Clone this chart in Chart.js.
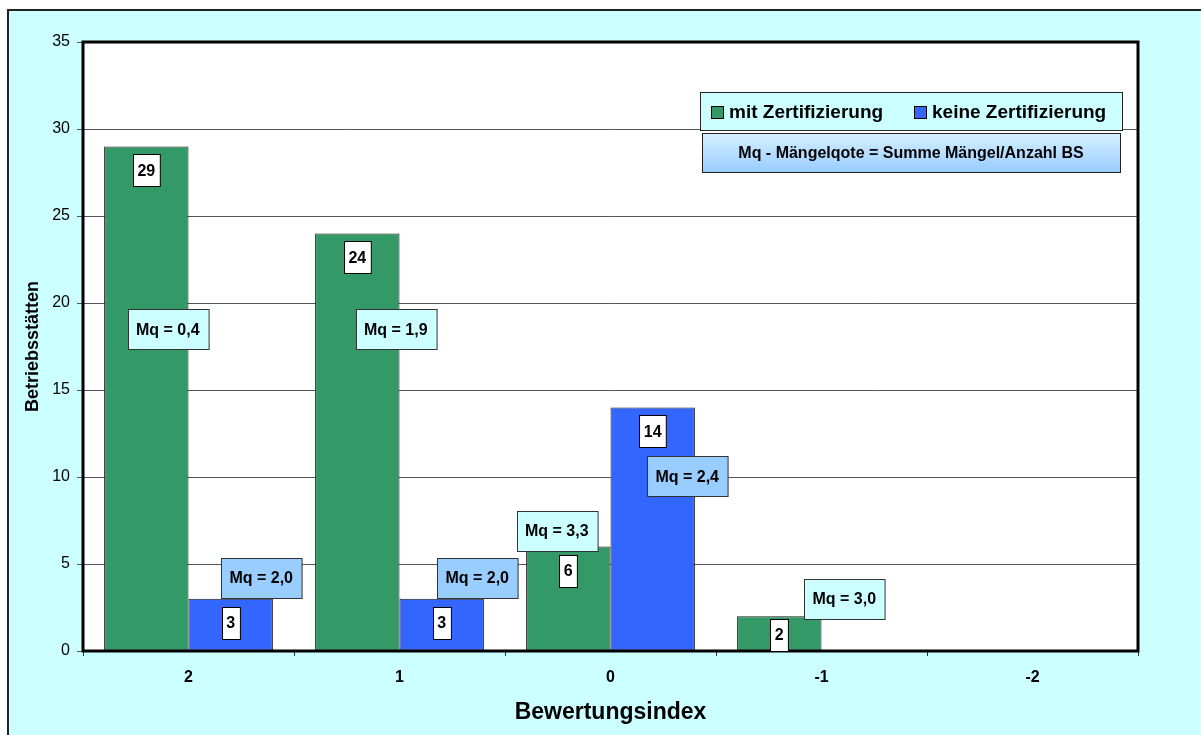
<!DOCTYPE html>
<html>
<head>
<meta charset="utf-8">
<title>Betriebsstätten nach Bewertungsindex</title>
<script src="https://cdn.jsdelivr.net/npm/chart.js@4/dist/chart.umd.min.js"></script>
<style>
  html, body { margin: 0; padding: 0; background: #ffffff; }
  #wrap { width: 1201px; height: 735px; }
</style>
</head>
<body>
<div id="wrap"><canvas id="chart" width="1201" height="735"></canvas></div>
<script>
// Bewertungsindex categories and counts of Betriebsstätten
const categories = ['2', '1', '0', '-1', '-2'];
const mitZertifizierung = [29, 24, 6, 2, 0];
const keineZertifizierung = [3, 3, 14, 0, 0];

// Mängelquote per bar (null = no annotation)
const mqMit = [0.4, 1.9, 3.3, 3.0, null];
const mqKeine = [2.0, 2.0, 2.4, null, null];

// y-axis ticks
const yMin = 0, yMax = 35, yStep = 5;

// placement of the Mq callouts: [pixel shift from bar centre, height in axis units]
const mqPlacement = {
  0: [[21.5, 18.5], [38.5, 18.5], [-11.5, 6.9], [65, 3.0], null],
  1: [[30.5, 4.2], [35.5, 4.2], [34.5, 10.05], null, null]
};
const mqSeries = [mqMit, mqKeine];
const mqFill = ['#ccffff', '#99ccff'];

const FONT = '"Liberation Sans", Arial, Helvetica, sans-serif';
const fmt = v => v.toFixed(1).replace('.', ',');

const framePlugin = {
  id: 'frame',
  beforeDraw(chart) {
    const { ctx, chartArea: a } = chart;
    ctx.save();
    // outer panel
    ctx.fillStyle = '#ccffff';
    ctx.fillRect(8, 10, chart.width, chart.height);
    ctx.strokeStyle = '#222';
    ctx.lineWidth = 2;
    ctx.beginPath();
    ctx.moveTo(8, chart.height + 5);
    ctx.lineTo(8, 10);
    ctx.lineTo(chart.width + 5, 10);
    ctx.stroke();
    // plot area
    ctx.fillStyle = '#ffffff';
    ctx.fillRect(a.left, a.top, a.right - a.left, a.bottom - a.top);
    ctx.restore();
  },
  afterDatasetsDraw(chart) {
    const { ctx, chartArea: a } = chart;
    const y = chart.scales.y;
    ctx.save();
    // plot border
    ctx.strokeStyle = '#000';
    ctx.lineWidth = 3;
    ctx.strokeRect(a.left, a.top, a.right - a.left, a.bottom - a.top);

    ctx.textAlign = 'center';
    ctx.textBaseline = 'middle';

    // value boxes at the top inside each bar
    ctx.font = 'bold 16px ' + FONT;
    chart.data.datasets.forEach((ds, di) => {
      const meta = chart.getDatasetMeta(di);
      meta.data.forEach((bar, i) => {
        const v = ds.data[i];
        if (!v) return;
        const txt = String(v);
        const w = ctx.measureText(txt).width + 9;
        const h = 32;
        const top = Math.min(bar.y + 8, bar.base - h);
        const left = Math.round(bar.x - w / 2) + 0.5;
        ctx.fillStyle = '#fff';
        ctx.fillRect(left, Math.round(top) + 0.5, w, h);
        ctx.strokeStyle = '#000';
        ctx.lineWidth = 1;
        ctx.strokeRect(left, Math.round(top) + 0.5, w, h);
        ctx.fillStyle = '#000';
        ctx.fillText(txt, bar.x, top + h / 2 + 1);
      });
    });

    // Mq callouts
    mqSeries.forEach((vals, di) => {
      const meta = chart.getDatasetMeta(di);
      vals.forEach((v, i) => {
        const p = mqPlacement[di][i];
        if (v === null || !p) return;
        const txt = 'Mq = ' + fmt(v);
        const w = ctx.measureText(txt).width + 17;
        const h = 40;
        const cx = meta.data[i].x + p[0];
        const cy = y.getPixelForValue(p[1]);
        const left = Math.round(cx - w / 2) + 0.5;
        const top = Math.round(cy - h / 2) + 0.5;
        ctx.fillStyle = mqFill[di];
        ctx.fillRect(left, top, w, h);
        ctx.strokeStyle = '#333';
        ctx.lineWidth = 1;
        ctx.strokeRect(left, top, w, h);
        ctx.fillStyle = '#000';
        ctx.fillText(txt, cx, cy + 1);
      });
    });

    // legend box
    const lx = a.right - 438, ly = a.top + 50, lw = 422, lh = 38;
    ctx.fillStyle = '#ccffff';
    ctx.fillRect(lx + 0.5, ly + 0.5, lw, lh);
    ctx.strokeStyle = '#222';
    ctx.lineWidth = 1;
    ctx.strokeRect(lx + 0.5, ly + 0.5, lw, lh);
    ctx.font = 'bold 19px ' + FONT;
    ctx.textAlign = 'left';
    const itemX = [lx + 11, lx + 214];
    chart.data.datasets.forEach((ds, di) => {
      const sx = itemX[di];
      ctx.fillStyle = ds.backgroundColor;
      ctx.fillRect(sx + 0.5, ly + 14.5, 12, 12);
      ctx.strokeStyle = '#000';
      ctx.strokeRect(sx + 0.5, ly + 14.5, 12, 12);
      ctx.fillStyle = '#000';
      ctx.fillText(ds.label, sx + 18, ly + 21);
    });

    // definition box
    const bx = lx + 2, by = ly + 41, bw = 418, bh = 39;
    const g = ctx.createLinearGradient(0, by, 0, by + bh);
    g.addColorStop(0, '#d6f1ff');
    g.addColorStop(1, '#99ccff');
    ctx.fillStyle = g;
    ctx.fillRect(bx + 0.5, by + 0.5, bw, bh);
    ctx.strokeStyle = '#222';
    ctx.strokeRect(bx + 0.5, by + 0.5, bw, bh);
    ctx.font = 'bold 16px ' + FONT;
    ctx.textAlign = 'center';
    ctx.fillStyle = '#000';
    ctx.fillText('Mq - Mängelqote = Summe Mängel/Anzahl BS', bx + bw / 2, by + bh / 2 + 1);
    ctx.restore();
  }
};

new Chart(document.getElementById('chart'), {
  type: 'bar',
  data: {
    labels: categories,
    datasets: [
      {
        label: 'mit Zertifizierung',
        data: mitZertifizierung,
        backgroundColor: '#339966',
        borderColor: '#1a1a1a',
        borderWidth: 1,
        borderSkipped: false
      },
      {
        label: 'keine Zertifizierung',
        data: keineZertifizierung,
        backgroundColor: '#3366ff',
        borderColor: '#1a1a1a',
        borderWidth: 1,
        borderSkipped: false
      }
    ]
  },
  options: {
    responsive: false,
    animation: false,
    devicePixelRatio: 1,
    layout: { padding: { top: 42, right: 63, left: 0, bottom: 0 } },
    datasets: { bar: { categoryPercentage: 0.8, barPercentage: 1.0 } },
    plugins: {
      legend: { display: false },
      tooltip: { enabled: false }
    },
    scales: {
      x: {
        afterFit(scale) { scale.height = 84; },
        border: { display: false },
        grid: {
          offset: true,
          drawOnChartArea: false,
          drawTicks: true,
          tickLength: 5,
          color: '#333'
        },
        ticks: {
          color: '#000',
          padding: 12,
          font: { family: FONT, size: 16, weight: 'bold' }
        },
        title: {
          display: true,
          text: 'Bewertungsindex',
          color: '#000',
          padding: { top: 0, bottom: 9 },
          font: { family: FONT, size: 23, weight: 'bold' }
        }
      },
      y: {
        min: yMin,
        max: yMax,
        afterFit(scale) { scale.width = 83; },
        border: { display: false },
        grid: {
          color: '#555',
          lineWidth: 1,
          drawTicks: true,
          tickLength: 6
        },
        ticks: {
          stepSize: yStep,
          color: '#000',
          padding: 7,
          font: { family: FONT, size: 16 }
        },
        title: {
          display: true,
          text: 'Betriebsstätten',
          color: '#000',
          padding: { top: 22, bottom: 0 },
          font: { family: FONT, size: 18, weight: 'bold' }
        }
      }
    }
  },
  plugins: [framePlugin]
});
</script>
</body>
</html>
